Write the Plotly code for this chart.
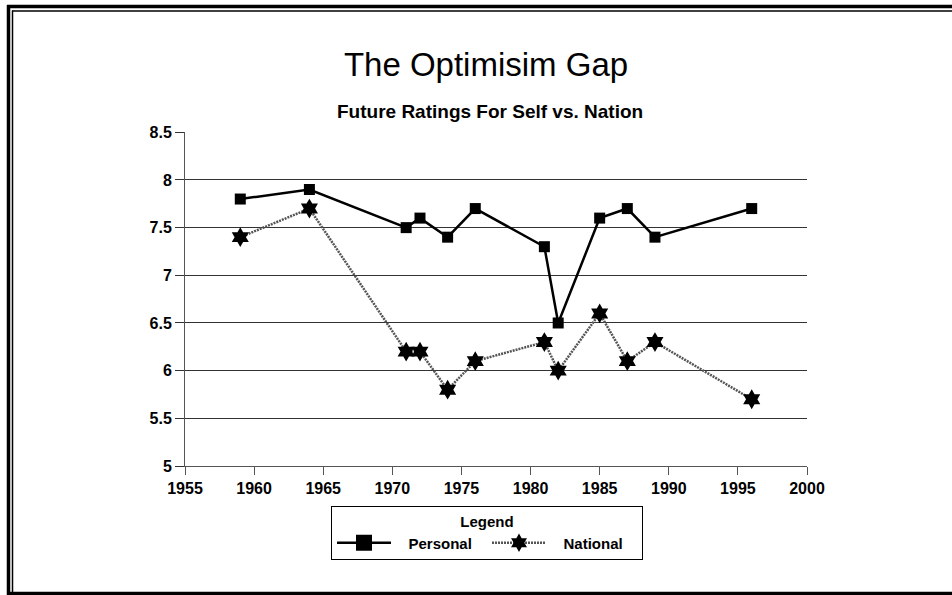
import plotly.graph_objects as go

years = [1959, 1964, 1971, 1972, 1974, 1976, 1981, 1982, 1985, 1987, 1989, 1996]
personal = [7.8, 7.9, 7.5, 7.6, 7.4, 7.7, 7.3, 6.5, 7.6, 7.7, 7.4, 7.7]
national = [7.4, 7.7, 6.2, 6.2, 5.8, 6.1, 6.3, 6.0, 6.6, 6.1, 6.3, 5.7]

x_ticks = [1955, 1960, 1965, 1970, 1975, 1980, 1985, 1990, 1995, 2000]
y_ticks = [5, 5.5, 6, 6.5, 7, 7.5, 8, 8.5]

W, H = 952, 595
L, R, T, B = 185, 807, 132, 466

def px(x):
    return (x - L) / (R - L)

def py(y):
    return (B - y) / (B - T)

FONT = "Liberation Sans, Arial, sans-serif"
PAD = "\u00a0\u00a0\u00a0"

personal_line = dict(color="black", width=2.5)
national_line = dict(color="#555555", width=2.5, dash="2px,1px")

fig = go.Figure()
fig.add_trace(go.Scatter(
    x=years, y=personal, name="Personal", mode="lines+markers", showlegend=False,
    line=personal_line, marker=dict(symbol="square", size=11, color="black"),
))
fig.add_trace(go.Scatter(
    x=years, y=national, name="National", mode="lines+markers", showlegend=False,
    line=national_line, marker=dict(symbol="hexagram", size=15, color="black"),
))
# legend-only entries (no data drawn)
fig.add_trace(go.Scatter(
    x=[None], y=[None], name=PAD + "<b>Personal</b>", mode="lines+markers",
    line=personal_line, marker=dict(symbol="square", size=16, color="black"),
))
fig.add_trace(go.Scatter(
    x=[None], y=[None], name=PAD + "<b>National</b>", mode="lines+markers",
    line=national_line, marker=dict(symbol="hexagram", size=14, color="black"),
))

fig.update_layout(
    width=W, height=H,
    margin=dict(l=L, r=W - R, t=T, b=H - B),
    paper_bgcolor="white", plot_bgcolor="white",
    font=dict(family=FONT, color="black", size=15),
    title=dict(text="The Optimisim Gap", x=px(486), xref="paper", xanchor="center",
               y=1 - 64 / H, yanchor="middle",
               font=dict(family=FONT, size=33, color="black")),
    showlegend=True,
    legend=dict(
        orientation="h", x=px(487), xanchor="center", y=py(506), yanchor="top",
        bordercolor="black", borderwidth=1, bgcolor="white",
        title=dict(text="<b>Legend</b>", side="top center", font=dict(size=15)),
        font=dict(family=FONT, size=15, color="black"),
        itemwidth=54, entrywidth=86, tracegroupgap=0,
    ),
    xaxis=dict(
        range=[1955, 2000], tickvals=x_ticks, ticktext=[f"<b>{v}</b>" for v in x_ticks],
        showgrid=False, zeroline=False, showline=True, linecolor="#555555", linewidth=1,
        ticks="outside", ticklen=8, tickcolor="#555555", tickwidth=1,
        tickfont=dict(family=FONT, size=16, color="black"),
    ),
    yaxis=dict(
        range=[5, 8.503], tickvals=y_ticks, ticktext=[f"<b>{v:g}</b>" for v in y_ticks],
        showgrid=True, gridcolor="#333333", gridwidth=1, zeroline=False,
        showline=True, linecolor="#555555", linewidth=1,
        ticks="outside", ticklen=9, tickcolor="#333333", tickwidth=1,
        tickfont=dict(family=FONT, size=16, color="black"),
    ),
)

fig.add_annotation(
    text="<b>Future Ratings For Self vs. Nation</b>", x=px(490), y=py(111),
    xref="paper", yref="paper", showarrow=False, xanchor="center", yanchor="middle",
    font=dict(family=FONT, size=19, color="black"),
)

# double frame around the chart (left, top, bottom edges; right edge is off-page)
def frame_line(x0, y0, x1, y1, w):
    fig.add_shape(type="line", xref="paper", yref="paper",
                  x0=px(x0), y0=py(y0), x1=px(x1), y1=py(y1),
                  line=dict(color="black", width=w), layer="above")

frame_line(8.5, 5, 8.5, 595, 3.5)     # outer left
frame_line(7, 6.5, 952, 6.5, 3.5)     # outer top
frame_line(7, 593.5, 952, 593.5, 3.5)  # outer bottom
frame_line(12.5, 10.5, 12.5, 592, 1.5)  # inner left
frame_line(12, 11, 952, 11, 1.5)      # inner top

fig.write_html("out.html", config={"displayModeBar": False},
               post_script="document.body.style.margin='0';document.body.style.overflow='hidden';")
